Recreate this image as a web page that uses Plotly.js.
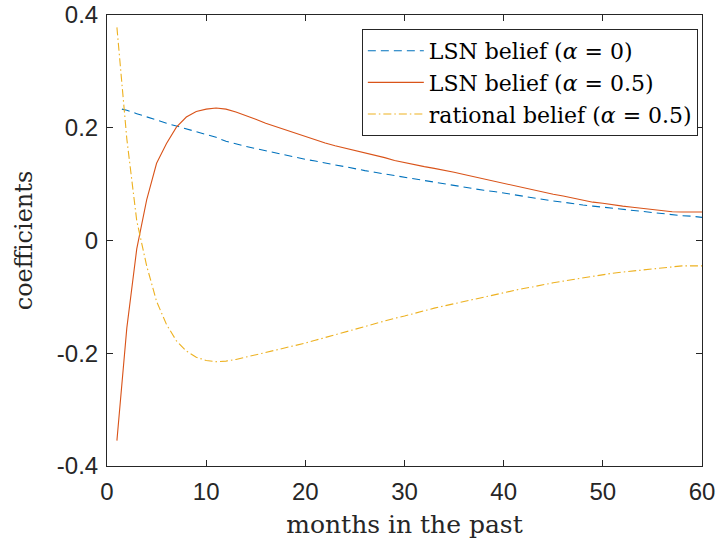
<!DOCTYPE html>
<html>
<head>
<meta charset="utf-8">
<script src="https://cdn.plot.ly/plotly-3.0.1.min.js"></script>
<style>html,body{margin:0;padding:0;background:#fff;}#chart{width:720px;height:543px;}</style>
</head>
<body>
<div id="chart"></div>
<script>
const months = [1,2,3,4,5,6,7,8,9,10,11,12,13,14,15,16,17,18,19,20,21,22,23,24,25,26,27,28,29,30,31,32,33,34,35,36,37,38,39,40,41,42,43,44,45,46,47,48,49,50,51,52,53,54,55,56,57,58,59,60];
const blueMonths = [1.5,2,3,4,5,6,7,8,9,10,11,12,13,14,15,16,17,18,19,20,21,22,23,24,25,26,27,28,29,30,31,32,33,34,35,36,37,38,39,40,41,42,43,44,45,46,47,48,49,50,51,52,53,54,55,56,57,58,59,60];
const lsnAlpha0 = [0.233,0.231,0.225,0.219,0.214,0.208,0.203,0.198,0.193,0.188,0.183,0.176,0.171,0.167,0.163,0.159,0.155,0.151,0.148,0.144,0.141,0.137,0.134,0.131,0.127,0.124,0.121,0.118,0.115,0.112,0.109,0.106,0.103,0.100,0.097,0.095,0.092,0.089,0.087,0.084,0.081,0.079,0.076,0.073,0.070,0.068,0.065,0.063,0.061,0.059,0.057,0.055,0.053,0.051,0.050,0.048,0.046,0.044,0.043,0.041];
const lsnAlpha05 = [-0.355,-0.155,-0.015,0.072,0.137,0.172,0.201,0.219,0.229,0.233,0.235,0.233,0.228,0.222,0.215,0.208,0.202,0.196,0.190,0.184,0.179,0.173,0.168,0.164,0.160,0.156,0.151,0.147,0.142,0.138,0.135,0.131,0.128,0.125,0.121,0.117,0.113,0.109,0.105,0.101,0.097,0.093,0.090,0.086,0.082,0.079,0.075,0.072,0.068,0.066,0.063,0.061,0.059,0.057,0.055,0.053,0.051,0.0505,0.0505,0.0505];
const rational05 = [0.378,0.180,0.035,-0.045,-0.108,-0.149,-0.178,-0.196,-0.207,-0.213,-0.215,-0.214,-0.211,-0.207,-0.203,-0.199,-0.195,-0.190,-0.186,-0.182,-0.177,-0.172,-0.167,-0.162,-0.157,-0.153,-0.148,-0.143,-0.138,-0.134,-0.129,-0.125,-0.120,-0.116,-0.112,-0.108,-0.104,-0.100,-0.096,-0.092,-0.089,-0.085,-0.082,-0.078,-0.075,-0.072,-0.069,-0.066,-0.063,-0.061,-0.058,-0.056,-0.054,-0.052,-0.050,-0.048,-0.046,-0.045,-0.045,-0.045];
const seriesNames = ['LSN belief (<i>α</i> = 0)','LSN belief (<i>α</i> = 0.5)','rational belief (<i>α</i> = 0.5)'];
const xTicks = [0,10,20,30,40,50,60];
const yTicks = [-0.4,-0.2,0,0.2,0.4];
const yTickText = ['-0.4','-0.2','0','0.2','0.4'];

const serif = 'DejaVu Serif, serif';
const traces = [
  {x: blueMonths, y: lsnAlpha0, name: seriesNames[0], mode: 'lines', line: {color: '#0072BD', width: 1.1, dash: '8px,5px'}},
  {x: months, y: lsnAlpha05, name: seriesNames[1], mode: 'lines', line: {color: '#D95319', width: 1.1}},
  {x: months, y: rational05, name: seriesNames[2], mode: 'lines', line: {color: '#EDB120', width: 1.1, dash: '8px,3px,1.5px,3px'}}
];
const axisCommon = {
  showline: true, linecolor: '#262626', linewidth: 1, mirror: 'allticks',
  ticks: 'inside', ticklen: 6, tickcolor: '#262626', tickwidth: 1,
  showgrid: false, zeroline: false,
  tickfont: {family: 'Liberation Sans, Arial, sans-serif', size: 24, color: '#262626'}
};
const layout = {
  width: 720, height: 543,
  margin: {l: 107, r: 18, t: 15, b: 77},
  paper_bgcolor: '#fff', plot_bgcolor: '#fff',
  showlegend: true,
  legend: {
    x: 0.993, y: 0.969, xanchor: 'right', yanchor: 'top',
    bgcolor: '#fff', bordercolor: '#262626', borderwidth: 1,
    font: {family: serif, size: 22, color: '#000'},
    tracegroupgap: 0, itemwidth: 56
  },
  xaxis: Object.assign({}, axisCommon, {
    range: [0, 60], tickvals: xTicks, ticktext: xTicks.map(String), ticklabelstandoff: 4,
    title: {text: 'months in the past', font: {family: serif, size: 25, color: '#262626'}, standoff: 11}
  }),
  yaxis: Object.assign({}, axisCommon, {
    range: [-0.4, 0.4], tickvals: yTicks, ticktext: yTickText, ticklabelstandoff: 3,
    title: {text: 'coefficients', font: {family: serif, size: 24, color: '#262626'}, standoff: 17}
  })
};
Plotly.newPlot('chart', traces, layout, {displayModeBar: false, staticPlot: true});
</script>
</body>
</html>
